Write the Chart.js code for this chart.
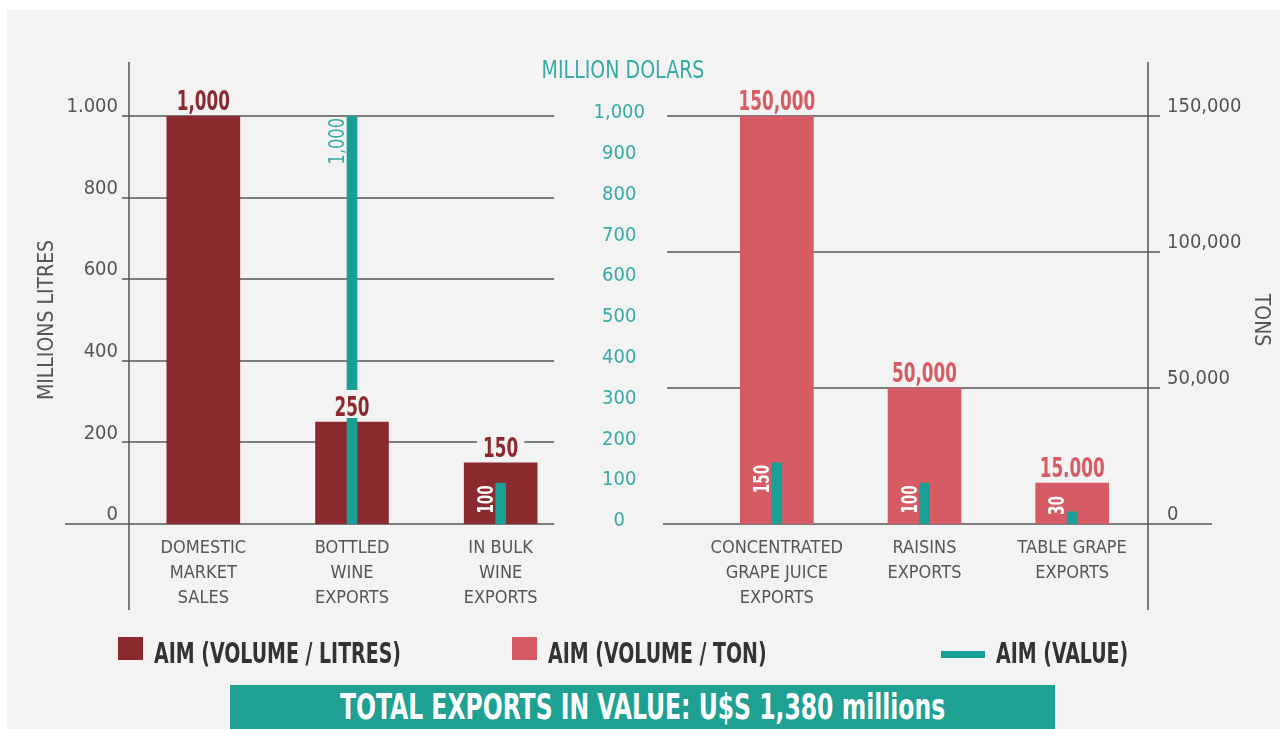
<!DOCTYPE html>
<html>
<head>
<meta charset="utf-8">
<script src="https://cdn.jsdelivr.net/npm/chart.js@4.4.1/dist/chart.umd.min.js"></script>
<style>
  body { margin: 0; width: 1285px; height: 729px; overflow: hidden; position: relative; background: #fff;
         font-family: "Liberation Sans Narrow", "DejaVu Sans Condensed", sans-serif; }
  #panel { position: absolute; left: 7px; top: 10px; width: 1273px; height: 719px; background: #f3f3f3; }
  canvas { position: absolute; left: 0; top: 0; }
  .item { position: absolute; top: 636px; height: 34px; }
  .item .mark { position: absolute; }
  .item .txt { position: absolute; top: 3px; white-space: nowrap; font-weight: bold; font-size: 28px;
               line-height: 30px; color: #333; transform-origin: left center; }
  #banner { position: absolute; left: 230px; top: 685px; width: 825px; height: 44px; background: #1ea193;
            overflow: hidden; }
  #bannerText { position: absolute; left: 0; top: 0; color: #fff; font-weight: bold; font-size: 36px;
                line-height: 44px; white-space: nowrap; transform-origin: left center; }
</style>
</head>
<body>
<div id="panel"></div>
<canvas id="wineChart" width="1285" height="729"></canvas>
<canvas id="grapeChart" width="1285" height="729"></canvas>
<div id="legend"></div>
<div id="banner"><span id="bannerText"></span></div>
<script>
// wine: millions of litres + value in million dollars
const wineCategories = [["DOMESTIC", "MARKET", "SALES"], ["BOTTLED", "WINE", "EXPORTS"], ["IN BULK", "WINE", "EXPORTS"]];
const wineVolume = [1000, 250, 150];
const wineValue = [null, 1000, 100];
const wineVolumeLabels = ["1,000", "250", "150"];
const wineValueLabels = ["", "1,000", "100"];

// grapes: tons + value in million dollars
const grapeCategories = [["CONCENTRATED", "GRAPE JUICE", "EXPORTS"], ["RAISINS", "EXPORTS"], ["TABLE GRAPE", "EXPORTS"]];
const grapeVolume = [150000, 50000, 15000];
const grapeValue = [150, 100, 30];
const grapeVolumeLabels = ["150,000", "50,000", "15.000"];
const grapeValueLabels = ["150", "100", "30"];

const litresTicks = ["0", "200", "400", "600", "800", "1.000"];
const dollarTicks = ["0", "100", "200", "300", "400", "500", "600", "700", "800", "900", "1,000"];
const tonsTicks = ["0", "50,000", "100,000", "150,000"];

const totalText = "TOTAL EXPORTS IN VALUE: U$S 1,380 millions";

const FONT = "'Liberation Sans Narrow', 'DejaVu Sans Condensed', sans-serif";
const BG = "#f3f3f3";
const GREY = "#555555";
const WINE = "#8b2a2e";
const GRAPE = "#d75b64";
const TEAL = "#18a096";
const TEAL_TEXT = "#38aaa5";

// text squeezed sideways, the original uses a very narrow typeface
const narrowText = (ctx, text, x, y, squeeze) => {
  ctx.save();
  ctx.translate(x, y);
  ctx.scale(squeeze, 1);
  ctx.fillText(text, 0, 0);
  ctx.restore();
};

// grid lines and the long axis line, drawn per panel
const panelGrid = {
  id: "panelGrid",
  beforeDatasetsDraw(chart, args, opts) {
    const { ctx, chartArea } = chart;
    const scale = chart.scales[opts.axis];
    ctx.save();
    ctx.strokeStyle = "#7d7d7d";
    ctx.lineWidth = 2;
    scale.ticks.forEach((t) => {
      const py = Math.round(scale.getPixelForValue(t.value));
      const base = t.value === 0;
      ctx.beginPath();
      ctx.moveTo(chartArea.left + (base ? opts.baseLeft : opts.gridLeft), py);
      ctx.lineTo(chartArea.right + (base ? opts.baseRight : opts.gridRight), py);
      ctx.stroke();
    });
    const ax = chartArea[opts.side] + (opts.side === "right" ? 2 : 0);
    ctx.strokeStyle = GREY;
    ctx.lineWidth = 1.5;
    ctx.beginPath();
    ctx.moveTo(ax, chartArea.top - 54);
    ctx.lineTo(ax, chart.scales.x.bottom);
    ctx.stroke();
    if (opts.title) {
      ctx.font = "24px " + FONT;
      ctx.fillStyle = TEAL_TEXT;
      ctx.textAlign = "center";
      ctx.textBaseline = "alphabetic";
      narrowText(ctx, opts.title, chartArea.left - 80, chartArea.top - 38, 0.88);
    }
    ctx.restore();
  },
};

const barLabels = {
  id: "barLabels",
  afterDatasetsDraw(chart, args, opts) {
    const { ctx } = chart;
    const vol = chart.getDatasetMeta(0).data;
    const val = chart.getDatasetMeta(1).data;
    ctx.save();
    ctx.font = "bold 26px " + FONT;
    ctx.textAlign = "center";
    ctx.textBaseline = "alphabetic";
    vol.forEach((bar, i) => {
      const text = opts.volume[i];
      const w = ctx.measureText(text).width * 0.72;
      ctx.fillStyle = BG;
      ctx.fillRect(bar.x - w / 2 - 6, bar.y - 32, w + 12, 28);
      ctx.fillStyle = chart.data.datasets[0].backgroundColor;
      narrowText(ctx, text, bar.x, bar.y - 6, 0.72);
    });
    val.forEach((bar, i) => {
      const text = opts.value[i];
      if (!text) return;
      const outside = bar.y < vol[i].y - 50;
      ctx.font = (outside ? "" : "bold ") + (outside ? 22 : 21) + "px " + FONT;
      const squeeze = outside ? 0.82 : 0.72;
      const len = ctx.measureText(text).width * squeeze;
      // keep the label inside the bar when the value bar is short
      const end = Math.min(bar.y + 2, bar.base - 9 - len);
      ctx.save();
      ctx.translate(bar.x - bar.width / 2 - 3, end);
      ctx.rotate(-Math.PI / 2);
      ctx.fillStyle = outside ? TEAL_TEXT : "#ffffff";
      ctx.textAlign = "right";
      ctx.textBaseline = "alphabetic";
      narrowText(ctx, text, 0, 0, squeeze);
      ctx.restore();
    });
    ctx.restore();
  },
};

const xAxis = {
  grid: { display: false, drawTicks: false },
  border: { display: false },
  ticks: { color: GREY, font: { family: FONT, size: 18, lineHeight: 1.38 }, padding: 12, maxRotation: 0, autoSkip: false },
  afterFit: (s) => { s.height = 86; },
};

const common = {
  responsive: false,
  animation: false,
  plugins: { legend: { display: false }, tooltip: { enabled: false } },
};

const wineChart = new Chart(document.getElementById("wineChart"), {
  type: "bar",
  data: {
    labels: wineCategories,
    datasets: [
      { label: "AIM (VOLUME / LITRES)", data: wineVolume, yAxisID: "y", backgroundColor: WINE,
        barThickness: 73, grouped: false, order: 1 },
      { label: "AIM (VALUE)", data: wineValue, yAxisID: "usd", backgroundColor: TEAL,
        barThickness: 10, grouped: false, order: 0 },
    ],
  },
  options: {
    ...common,
    layout: { padding: { left: 0, right: 710, top: 116, bottom: 119 } },
    scales: {
      x: xAxis,
      y: {
        min: 0, max: 1000,
        grid: { display: false, drawTicks: false },
        border: { display: false },
        ticks: { stepSize: 200, color: GREY, font: { family: FONT, size: 20 }, padding: 11, labelOffset: -9,
                 callback: (v, i) => litresTicks[i] },
        title: { display: true, text: "MILLIONS LITRES", color: GREY, font: { family: FONT, size: 21 },
                 padding: { top: 35, bottom: 0 } },
        afterFit: (s) => { s.width = 129; },
      },
      usd: { display: false, min: 0, max: 1000 },
    },
    plugins: {
      ...common.plugins,
      panelGrid: { axis: "y", side: "left", gridLeft: -7, gridRight: -21, baseLeft: -64, baseRight: -21 },
      barLabels: { volume: wineVolumeLabels, value: wineValueLabels },
    },
  },
  plugins: [panelGrid, barLabels],
});

const grapeChart = new Chart(document.getElementById("grapeChart"), {
  type: "bar",
  data: {
    labels: grapeCategories,
    datasets: [
      { label: "AIM (VOLUME / TON)", data: grapeVolume, yAxisID: "tons", backgroundColor: GRAPE,
        barThickness: 73, grouped: false, order: 1 },
      { label: "AIM (VALUE)", data: grapeValue, yAxisID: "usd", backgroundColor: TEAL,
        barThickness: 10, grouped: false, order: 0 },
    ],
  },
  options: {
    ...common,
    layout: { padding: { left: 560, right: 0, top: 116, bottom: 119 } },
    scales: {
      x: xAxis,
      usd: {
        position: "left",
        min: 0, max: 1000,
        grid: { display: false, drawTicks: false },
        border: { display: false },
        ticks: { stepSize: 100, color: TEAL_TEXT, font: { family: FONT, size: 20 }, padding: 58,
                 crossAlign: "center", labelOffset: -3, callback: (v, i) => dollarTicks[i] },
        afterFit: (s) => { s.width = 143; },
      },
      tons: {
        position: "right",
        min: 0, max: 150000,
        grid: { display: false, drawTicks: false },
        border: { display: false },
        ticks: { stepSize: 50000, color: GREY, font: { family: FONT, size: 20 }, padding: 21, labelOffset: -9,
                 callback: (v, i) => tonsTicks[i] },
        title: { display: true, text: "TONS", color: GREY, font: { family: FONT, size: 21 },
                 padding: { top: 12, bottom: 0 } },
        afterFit: (s) => { s.width = 139; },
      },
    },
    plugins: {
      ...common.plugins,
      panelGrid: { axis: "tons", side: "right", gridLeft: -36, gridRight: 14, baseLeft: -40, baseRight: 66,
                   title: "MILLION DOLARS" },
      barLabels: { volume: grapeVolumeLabels, value: grapeValueLabels },
    },
  },
  plugins: [panelGrid, barLabels],
});

// html legend built from the datasets
const legendEntries = [
  { ds: wineChart.data.datasets[0], left: 118, mark: "box" },
  { ds: grapeChart.data.datasets[0], left: 512, mark: "box" },
  { ds: grapeChart.data.datasets[1], left: 941, mark: "dash" },
];
const legend = document.getElementById("legend");
const legendTexts = [];
legendEntries.forEach((e) => {
  const item = document.createElement("div");
  item.className = "item";
  item.style.left = e.left + "px";
  const mark = document.createElement("div");
  mark.className = "mark";
  mark.style.background = e.ds.backgroundColor;
  if (e.mark === "box") {
    Object.assign(mark.style, { left: "0px", top: "1px", width: "25px", height: "23px" });
  } else {
    Object.assign(mark.style, { left: "0px", top: "15px", width: "44px", height: "7px" });
  }
  const txt = document.createElement("div");
  txt.className = "txt";
  txt.style.left = (e.mark === "box" ? 36 : 55) + "px";
  txt.textContent = e.ds.label;
  item.appendChild(mark);
  item.appendChild(txt);
  legend.appendChild(item);
  legendTexts.push(txt);
});
// squeeze legend text to the width of the original narrow type
const legendSqueeze = 247 / legendTexts[0].offsetWidth;
legendTexts.forEach((t) => { t.style.transform = `scaleX(${legendSqueeze})`; });

const banner = document.getElementById("bannerText");
banner.textContent = totalText;
const bannerSqueeze = 605 / banner.offsetWidth;
banner.style.transform = `scaleX(${bannerSqueeze})`;
banner.style.left = (825 - 605) / 2 + "px";
</script>
</body>
</html>
